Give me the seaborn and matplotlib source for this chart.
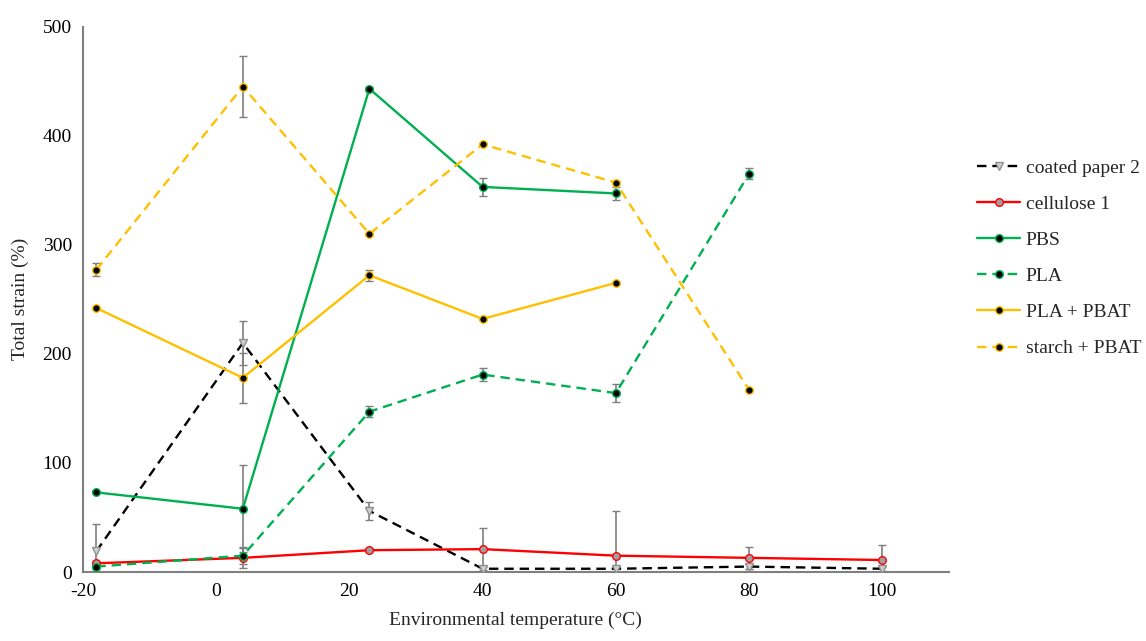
import numpy as np
import pandas as pd
import matplotlib
matplotlib.use("Agg")
import matplotlib.pyplot as plt
import seaborn as sns

# temperatures (deg C)
temps = [-18, 4, 23, 40, 60, 80, 100]

coated_paper = [19, 210, 56, 3, 3, 5, 3]
coated_paper_err = [25, 20, 8, 2, 2, 2, 2]
cellulose = [8, 13, 20, 21, 15, 13, 11]
cellulose_err = [2, 9, 2, 19, 41, 10, 14]
pbs = [73, 58, 443, 353, 347]
pbs_err = [1, 40, 2, 8, 6]
pla = [5, 15, 147, 181, 164, 365]
pla_err = [2, 8, 5, 6, 8, 5]
pla_pbat = [242, 178, 272, 232, 265]
pla_pbat_err = [1, 23, 5, 1, 1]
starch_pbat = [277, 445, 310, 392, 357, 167]
starch_pbat_err = [6, 28, 1, 1, 1, 1]

series = [
    ("coated paper 2", coated_paper, coated_paper_err, "#000000", "--", "v", "#d0d0d0", "#909090"),
    ("cellulose 1", cellulose, cellulose_err, "#ff0000", "-", "o", "#a0a0a0", "#ff0000"),
    ("PBS", pbs, pbs_err, "#00b050", "-", "o", "#000000", "#00b050"),
    ("PLA", pla, pla_err, "#00b050", "--", "o", "#000000", "#00b050"),
    ("PLA + PBAT", pla_pbat, pla_pbat_err, "#ffc000", "-", "o", "#000000", "#ffc000"),
    ("starch + PBAT", starch_pbat, starch_pbat_err, "#ffc000", "--", "o", "#000000", "#ffc000"),
]

sns.set_theme(style="white")
plt.rcParams["font.family"] = ["Liberation Serif", "DejaVu Serif"]
plt.rcParams["axes.unicode_minus"] = False

fig = plt.figure(figsize=(11.46, 6.41), dpi=100)
ax = fig.add_axes([0.0724, 0.1076, 0.7556, 0.851])

for name, vals, errs, color, ls, mk, mfc, mec in series:
    x = temps[:len(vals)]
    ax.errorbar(x, vals, yerr=errs, fmt="none", ecolor="#7f7f7f",
                elinewidth=1.2, capsize=3, capthick=1.0, zorder=2)
    sns.lineplot(x=x, y=vals, ax=ax, color=color, linestyle=ls,
                 linewidth=1.7, marker=mk, markersize=5.5,
                 markerfacecolor=mfc, markeredgecolor=mec, markeredgewidth=1.0,
                 label=name, zorder=3)
    line = ax.get_lines()[-1]
    if ls == "--":
        line.set_dashes((4, 2.5))

ax.set_xlim(-20, 110)
ax.set_ylim(0, 500)
ax.set_xticks([-20, 0, 20, 40, 60, 80, 100])
ax.set_yticks([0, 100, 200, 300, 400, 500])
ax.tick_params(axis="both", labelsize=14, length=0, pad=8, colors="#000000")
ax.set_xlabel("Environmental temperature (°C)", fontsize=14, labelpad=8)
ax.set_ylabel("Total strain (%)", fontsize=14, labelpad=10)

for s in ["top", "right"]:
    ax.spines[s].set_visible(False)
for s in ["left", "bottom"]:
    ax.spines[s].set_color("#808080")
    ax.spines[s].set_linewidth(1.5)

leg = ax.legend(loc="center left", bbox_to_anchor=(1.017, 0.575), frameon=False,
                fontsize=14, handlelength=2.2, handletextpad=0.3, labelspacing=0.95,
                borderaxespad=0.3)

fig.savefig("out.png", dpi=100)
